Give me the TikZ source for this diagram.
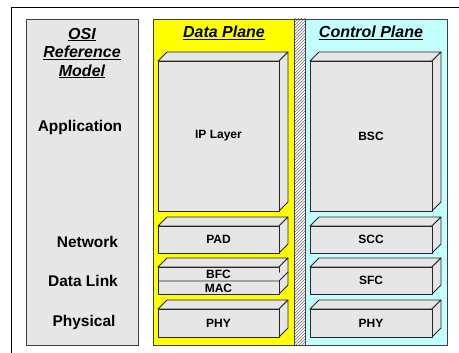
\documentclass[tikz,border=0pt]{standalone}
\usepackage{fontspec}
\setmainfont{Liberation Sans}
\usetikzlibrary{patterns}

\definecolor{dataplane}{HTML}{FFFF00}
\definecolor{ctrlplane}{HTML}{C4FFFF}
\definecolor{boxgray}{HTML}{E6E6E6}

\tikzset{
  planebox/.style={draw=black!75, line width=0.8pt},
  layerface/.style={draw=black!85, fill=boxgray, line width=0.8pt, line join=round},
  layertext/.style={font=\bfseries\fontsize{12}{13}\selectfont},
  planetitle/.style={font=\bfseries\itshape\fontsize{16}{18.5}\selectfont},
  osilabel/.style={font=\bfseries\fontsize{15.5}{17}\selectfont},
}

% 3D layer block: name, x left, y top, x right, y bottom, label
\newcommand{\layerblock}[6]{%
  \draw[layerface] (#2,#3) -- (#2+9,#3-9) -- (#4+9,#3-9) -- (#4,#3) -- cycle;
  \draw[layerface] (#4,#3) -- (#4+9,#3-9) -- (#4+9,#5-9) -- (#4,#5) -- cycle;
  \draw[layerface] (#2,#3) rectangle (#4,#5);
  \node[layertext] (#1) at ({(#2+#4)/2},{(#3+#5)/2}) {#6};
}

\begin{document}
\begin{tikzpicture}[x=1pt, y=-1pt]
    \useasboundingbox (0,0) rectangle (459,353);

    % Outer frame
    \draw[line width=1pt] (11,353) -- (11,8) -- (459,8);

    % Planes
    \draw[planebox, fill=boxgray] (26,19) rectangle (138,345);
    \draw[planebox, fill=dataplane] (153,19) rectangle (294,345);
    \draw[planebox, pattern=north east lines, pattern color=black!55] (294,19) rectangle (305,345);
    \draw[planebox, fill=ctrlplane] (305,19) rectangle (447,345);

    % Titles
    \node[planetitle, align=center] (osi) at (82,53)
        {\underline{OSI}\\\underline{Reference}\\\underline{Model}};
    \node[planetitle] (data) at (224,33) {\underline{Data Plane}};
    \node[planetitle] (ctrl) at (371,33) {\underline{Control Plane}};

    % OSI layers
    \node[osilabel] (app) at (80,127) {Application};
    \node[osilabel] (net) at (87.5,242) {Network};
    \node[osilabel] (dlink) at (83,281) {Data Link};
    \node[osilabel] (phys) at (84,322) {Physical};

    % Data plane stack
    \layerblock{ip}{158}{61}{279}{211}{IP Layer}
    \layerblock{pad}{158}{226}{279}{253}{PAD}
    \layerblock{bfcmac}{158}{267}{279}{294}{}
    \draw[layerface] (158,281) -- (279,281) -- (288,272);
    \node[layertext] (bfc) at (218.5,274) {BFC};
    \node[layertext] (mac) at (218.5,288) {MAC};
    \layerblock{dphy}{158}{309}{279}{337}{PHY}

    % Control plane stack
    \layerblock{bsc}{310}{61}{432}{211}{BSC}
    \layerblock{scc}{310}{226}{432}{253}{SCC}
    \layerblock{sfc}{310}{267}{432}{294}{SFC}
    \layerblock{cphy}{310}{309}{432}{337}{PHY}
\end{tikzpicture}
\end{document}
